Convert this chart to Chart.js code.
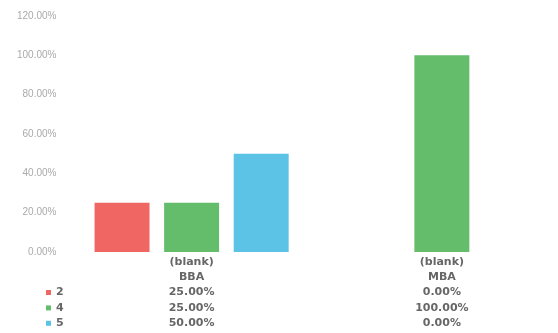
<!DOCTYPE html>
<html>
<head>
<meta charset="utf-8">
<script src="https://cdn.jsdelivr.net/npm/chart.js@4/dist/chart.umd.min.js"></script>
<style>
  html, body { margin:0; padding:0; background:#ffffff; overflow:hidden; width:558px; height:333px; }
  #wrap { width:590px; height:333px; }
</style>
</head>
<body>
<div id="wrap"><canvas id="c" width="590" height="333"></canvas></div>
<script>
const categories = ['BBA', 'MBA'];
const groupLabel = '(blank)';
const seriesNames = ['2', '4', '5'];
const series2 = [25, 0];
const series4 = [25, 100];
const series5 = [50, 0];
const seriesColors = ['#ef6663', '#63bd6b', '#5cc3e6'];
const yMax = 120;
const yStep = 20;

const seriesValues = [series2, series4, series5];
const fmt = v => v.toFixed(2) + '%';
const xLabels = categories.map((c, i) => [groupLabel, c].concat(seriesValues.map(s => fmt(s[i]))));

const LINE_H = 15.4;
const X_PAD = 2;

const legendPlugin = {
  id: 'rowLegend',
  afterDraw(chart) {
    const ctx = chart.ctx;
    const bottom = chart.chartArea.bottom;
    ctx.save();
    ctx.font = 'bold 11px "DejaVu Sans"';
    ctx.textBaseline = 'middle';
    ctx.textAlign = 'left';
    chart.data.datasets.forEach((ds, i) => {
      const y = bottom + X_PAD + LINE_H * (i + 2) + LINE_H / 2;
      ctx.fillStyle = ds.backgroundColor;
      ctx.fillRect(46, y - 2.5, 5, 5);
      ctx.fillStyle = '#666666';
      ctx.fillText(ds.label, 56, y);
    });
    ctx.restore();
  }
};

new Chart(document.getElementById('c'), {
  type: 'bar',
  data: {
    labels: xLabels,
    datasets: seriesNames.map((n, i) => ({
      label: n,
      data: seriesValues[i],
      backgroundColor: seriesColors[i],
      borderWidth: 0,
      categoryPercentage: 0.834,
      barPercentage: 0.79
    }))
  },
  options: {
    responsive: false,
    animation: false,
    layout: { padding: { left: 7, right: 23, top: 7, bottom: 0 } },
    plugins: { legend: { display: false }, tooltip: { enabled: false } },
    scales: {
      x: {
        grid: { display: false, drawTicks: false },
        border: { display: false },
        ticks: {
          padding: X_PAD,
          color: '#666666',
          font: { family: '"DejaVu Sans"', size: 11, weight: 'bold', lineHeight: LINE_H / 11 },
          maxRotation: 0,
          autoSkip: false
        }
      },
      y: {
        min: 0,
        max: yMax,
        grid: { display: false, drawTicks: false },
        border: { display: false },
        ticks: {
          stepSize: yStep,
          padding: 10,
          color: '#aaaaaa',
          font: { family: '"Liberation Sans"', size: 10 },
          callback: v => fmt(v)
        }
      }
    }
  },
  plugins: [legendPlugin]
});
</script>
</body>
</html>
